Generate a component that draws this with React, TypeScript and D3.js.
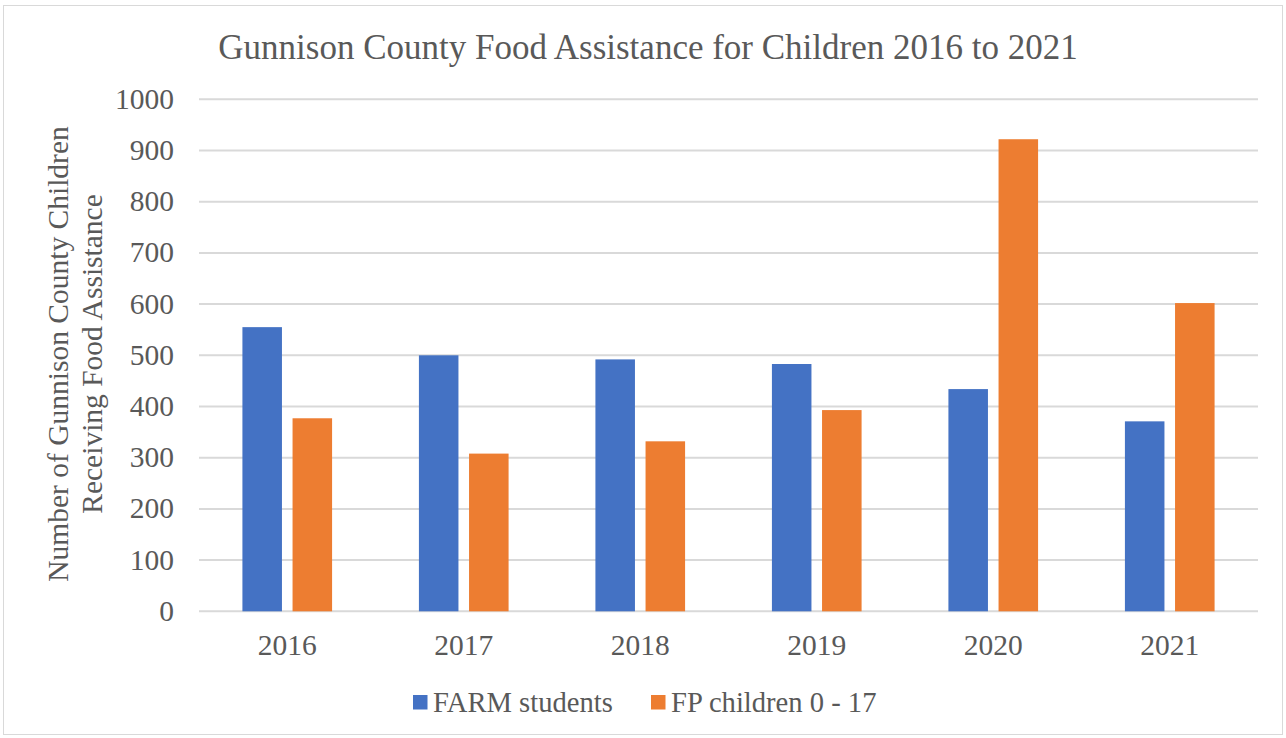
import React from "react";
import * as d3 from "d3";

const years = ["2016", "2017", "2018", "2019", "2020", "2021"];
const farmStudents = [555, 500, 492, 483, 434, 371];
const fpChildren = [377, 308, 332, 393, 922, 602];
const yTicks = [0, 100, 200, 300, 400, 500, 600, 700, 800, 900, 1000];
const seriesNames = ["FARM students", "FP children 0 - 17"];
const colors = ["#4472C4", "#ED7D31"];

const W = 1286;
const H = 738;
const FONT = "Liberation Serif";
const TEXT = "#595959";

export default function App() {
  const plotLeft = 199;
  const plotRight = 1258;
  const plotTop = 99.3;
  const plotBottom = 611.3;

  const x = d3.scaleBand<string>().domain(years).range([plotLeft, plotRight]).padding(0);
  const y = d3.scaleLinear().domain([0, 1000]).range([plotBottom, plotTop]);
  const bw = x.bandwidth();
  const barW = bw * 0.224;
  const gap = bw * 0.06;

  return (
    <svg width={W} height={H} style={{ position: "absolute", left: 0, top: 0, background: "#fff" }}>
      <rect x={3.5} y={5.5} width={W - 7} height={H - 9} fill="#fff" stroke="#d9d9d9" strokeWidth={1} />
      <text x={648} y={59} textAnchor="middle" fontFamily={FONT} fontSize={35} fill={TEXT}>
        Gunnison County Food Assistance for Children 2016 to 2021
      </text>
      {yTicks.map((t) => (
        <g key={t}>
          <line x1={plotLeft} x2={plotRight} y1={y(t)} y2={y(t)} stroke="#d9d9d9" strokeWidth={2} />
          <text x={174} y={y(t) + 9.5} textAnchor="end" fontFamily={FONT} fontSize={29.5} fill={TEXT}>
            {t}
          </text>
        </g>
      ))}
      {years.map((yr, i) => {
        const c = (x(yr) as number) + bw / 2;
        return (
          <g key={yr}>
            <rect x={c - gap / 2 - barW} y={y(farmStudents[i])} width={barW} height={y(0) - y(farmStudents[i])} fill={colors[0]} />
            <rect x={c + gap / 2} y={y(fpChildren[i])} width={barW} height={y(0) - y(fpChildren[i])} fill={colors[1]} />
            <text x={c} y={655} textAnchor="middle" fontFamily={FONT} fontSize={29.5} fill={TEXT}>
              {yr}
            </text>
          </g>
        );
      })}
      <g transform="translate(0,354) rotate(-90)">
        <text x={0} y={68} textAnchor="middle" fontFamily={FONT} fontSize={29.5} fill={TEXT}>
          Number of Gunnison County Children
        </text>
        <text x={0} y={102} textAnchor="middle" fontFamily={FONT} fontSize={29.5} fill={TEXT}>
          Receiving Food Assistance
        </text>
      </g>
      <rect x={413} y={695} width={14.5} height={14.5} fill={colors[0]} />
      <text x={433} y={712} fontFamily={FONT} fontSize={28.6} fill={TEXT}>{seriesNames[0]}</text>
      <rect x={651} y={695} width={14.5} height={14.5} fill={colors[1]} />
      <text x={671} y={712} fontFamily={FONT} fontSize={28.6} fill={TEXT}>{seriesNames[1]}</text>
    </svg>
  );
}
